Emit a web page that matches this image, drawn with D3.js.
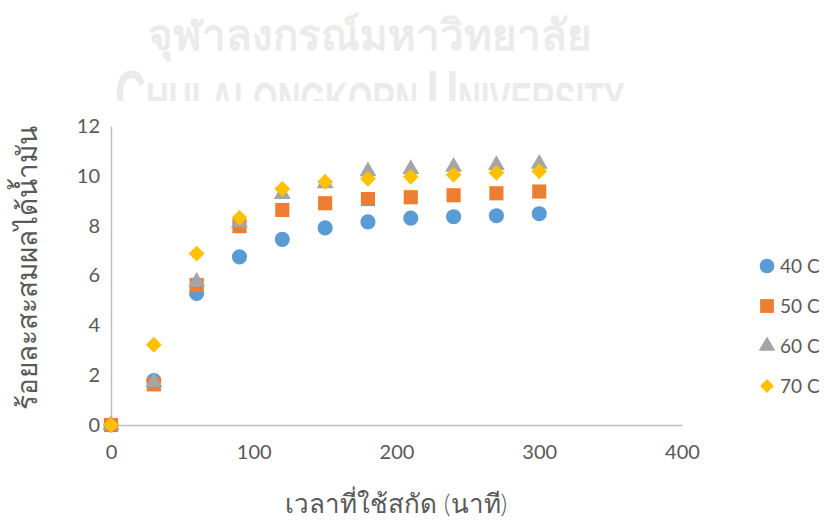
<!DOCTYPE html>
<html>
<head>
<meta charset="utf-8">
<script src="https://cdn.jsdelivr.net/npm/d3@7"></script>
<style>
  html, body { margin: 0; padding: 0; background: #fff; }
  svg { display: block; }
  text { font-family: Lato, "Noto Sans", sans-serif; }
</style>
</head>
<body>
<svg id="chart" width="826" height="523"></svg>
<script>
// Extraction time (minutes)
const times = [0, 30, 60, 90, 120, 150, 180, 210, 240, 270, 300];
// Cumulative oil yield (%) at each extraction temperature
const yield40 = [0, 1.78, 5.28, 6.75, 7.45, 7.91, 8.15, 8.30, 8.36, 8.40, 8.48];
const yield50 = [0, 1.63, 5.62, 7.98, 8.63, 8.90, 9.07, 9.14, 9.22, 9.30, 9.37];
const yield60 = [0, 1.72, 5.75, 8.12, 9.27, 9.70, 10.18, 10.27, 10.36, 10.43, 10.48];
const yield70 = [0, 3.22, 6.88, 8.32, 9.48, 9.76, 9.88, 9.96, 10.04, 10.12, 10.18];
const seriesNames = ["40 C", "50 C", "60 C", "70 C"];
const xTicks = [0, 100, 200, 300, 400];
const yTicks = [0, 2, 4, 6, 8, 10, 12];
const xTitle = "เวลาที่ใช้สกัด (นาที)";
const yTitle = "ร้อยละสะสมผลได้น้ำมัน";
const watermarkThai = "จุฬาลงกรณ์มหาวิทยาลัย";

const colors = ["#5B9BD5", "#ED7D31", "#A5A5A5", "#FFC000"];
// diamond = square turned 45 degrees
const shapes = [d3.symbolCircle, d3.symbolSquare, d3.symbolTriangle, d3.symbolSquare];
const rotations = [0, 0, 0, 45];
const sizes = [180, 200, 125, 125];
const seriesValues = [yield40, yield50, yield60, yield70];

const svg = d3.select("#chart");

// faint university watermark behind the chart
const wm = svg.append("g").attr("fill", "#ebebeb");
wm.append("text")
  .attr("x", 370).attr("y", 50)
  .attr("text-anchor", "middle")
  .style("font-family", "'Noto Sans', sans-serif")
  .style("font-weight", "bold")
  .style("font-size", "42px")
  .text(watermarkThai);
const wmLatin = wm.append("text")
  .attr("x", 0).attr("y", 0)
  .style("font-family", "'Liberation Sans Narrow', 'Liberation Sans', sans-serif")
  .style("font-weight", "bold");
wmLatin.append("tspan").style("font-size", "68px").text("C");
wmLatin.append("tspan").style("font-size", "50px").text("HULALONGKORN ");
wmLatin.append("tspan").style("font-size", "68px").text("U");
wmLatin.append("tspan").style("font-size", "50px").text("NIVERSITY");
const wmWidth = wmLatin.node().getComputedTextLength();
wmLatin.attr("transform", `translate(115,118) scale(${510 / wmWidth},1)`);
// chart area sits over the lower part of the watermark
svg.append("rect").attr("x", 0).attr("y", 101).attr("width", 826).attr("height", 422).attr("fill", "#fff");

const x = d3.scaleLinear().domain([0, 400]).range([111, 682]);
const y = d3.scaleLinear().domain([0, 12]).range([425, 126]);

const axisColor = "#bfbfbf";
const textColor = "#595959";

// x axis
const gx = svg.append("g").attr("transform", `translate(0,${y(0)})`)
  .call(d3.axisBottom(x).tickValues(xTicks).tickSize(0).tickPadding(20).tickFormat(d3.format("d")));
gx.select(".domain").attr("stroke", axisColor).attr("stroke-width", 1.5);
gx.selectAll("text").attr("fill", textColor).style("font-size", "20px").style("font-family", "Lato, sans-serif");

// y axis
const gy = svg.append("g").attr("transform", `translate(${x(0)},0)`)
  .call(d3.axisLeft(y).tickValues(yTicks).tickSize(0).tickPadding(11).tickFormat(d3.format("d")));
gy.select(".domain").attr("stroke", axisColor).attr("stroke-width", 1.5);
gy.selectAll("text").attr("fill", textColor).style("font-size", "20px").style("font-family", "Lato, sans-serif");

// axis titles
svg.append("text")
  .attr("x", 396).attr("y", 513)
  .attr("text-anchor", "middle")
  .attr("fill", textColor)
  .style("font-size", "26px")
  .style("font-weight", "300")
  .text(xTitle);
svg.append("text")
  .attr("transform", "translate(37,268) rotate(-90)")
  .attr("text-anchor", "middle")
  .attr("fill", textColor)
  .style("font-size", "28px")
  .style("font-weight", "300")
  .text(yTitle);

// markers
seriesValues.forEach((vals, i) => {
  const sym = d3.symbol().type(shapes[i]).size(sizes[i]);
  svg.append("g").selectAll("path")
    .data(times.map((t, k) => ({ t, v: vals[k] })))
    .join("path")
    .attr("d", sym)
    .attr("fill", colors[i])
    .attr("transform", d => `translate(${x(d.t)},${y(d.v)}) rotate(${rotations[i]})`);
});

// legend
const legend = svg.append("g");
seriesNames.forEach((name, i) => {
  const ly = 266 + i * 40;
  legend.append("path")
    .attr("d", d3.symbol().type(shapes[i]).size([170, 190, 120, 95][i])())
    .attr("fill", colors[i])
    .attr("transform", `translate(767,${ly}) rotate(${rotations[i]})`);
  legend.append("text")
    .attr("x", 780).attr("y", ly)
    .attr("dy", "0.36em")
    .attr("fill", textColor)
    .style("font-size", "19px")
    .text(name);
});
</script>
</body>
</html>
